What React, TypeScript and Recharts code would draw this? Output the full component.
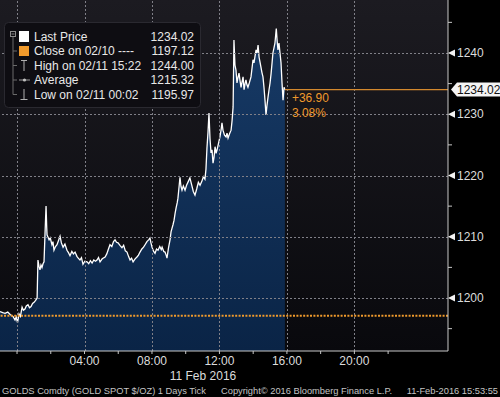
import React from 'react';
import {
  ComposedChart,
  Area,
  XAxis,
  YAxis,
  CartesianGrid,
  ReferenceLine,
  ReferenceDot,
} from 'recharts';

// hours after 00:00 on 11 Feb 2016 (negative = 10 Feb)
const TIMES = [
  -1.01, -0.85, -0.71, -0.55, -0.41, -0.3, -0.24, -0.12, -0.05, 0.03, 0.08, 0.12, 0.2, 0.3, 0.38, 0.47, 0.55, 0.65,
  0.74, 0.83, 0.92, 1.01, 1.1, 1.19, 1.24, 1.3, 1.36, 1.42, 1.48, 1.54, 1.6, 1.66, 1.72, 1.76, 1.78, 1.84, 1.9, 1.97,
  2.07, 2.13, 2.19, 2.28, 2.37, 2.46, 2.55, 2.63, 2.73, 2.84, 2.96, 3.05, 3.14, 3.25, 3.34, 3.44, 3.55, 3.63, 3.73,
  3.82, 3.91, 4.02, 4.15, 4.25, 4.35, 4.45, 4.55, 4.65, 4.74, 4.83, 4.92, 5.05, 5.22, 5.32, 5.42, 5.51, 5.62, 5.72,
  5.81, 5.9, 5.99, 6.1, 6.22, 6.32, 6.42, 6.52, 6.61, 6.7, 6.79, 6.88, 7.0, 7.11, 7.2, 7.29, 7.4, 7.5, 7.59, 7.7, 7.8,
  7.88, 7.94, 8.0, 8.1, 8.18, 8.27, 8.36, 8.46, 8.55, 8.6, 8.7, 8.77, 8.84, 8.89, 8.98, 9.07, 9.13, 9.19, 9.25, 9.31,
  9.37, 9.43, 9.5, 9.54, 9.6, 9.66, 9.72, 9.78, 9.86, 9.96, 10.05, 10.15, 10.25, 10.35, 10.45, 10.55, 10.65, 10.75,
  10.85, 10.95, 11.05, 11.14, 11.2, 11.26, 11.32, 11.38, 11.44, 11.5, 11.56, 11.62, 11.68, 11.74, 11.8, 11.86, 11.94,
  12.03, 12.1, 12.15, 12.21, 12.3, 12.39, 12.45, 12.51, 12.6, 12.69, 12.75, 12.81, 12.86, 12.92, 12.98, 13.04, 13.1,
  13.16, 13.22, 13.28, 13.34, 13.4, 13.46, 13.52, 13.57, 13.63, 13.69, 13.78, 13.87, 13.93, 13.99, 14.05, 14.11,
  14.17, 14.23, 14.29, 14.35, 14.4, 14.46, 14.52, 14.58, 14.64, 14.7, 14.76, 14.82, 14.88, 14.94, 15.0, 15.06, 15.12,
  15.17, 15.23, 15.29, 15.33, 15.37, 15.42, 15.47, 15.53, 15.59, 15.65, 15.71, 15.77, 15.83, 15.88,
];

const PRICES = [
  1197.8, 1197.6, 1197.5, 1197.7, 1197.3, 1197.1, 1197.0, 1196.4, 1196.9, 1195.97, 1196.8, 1197.4, 1197.0, 1198.5,
  1198.0, 1198.2, 1198.7, 1198.9, 1198.4, 1198.6, 1199.1, 1199.3, 1199.6, 1200.0, 1206.2, 1205.2, 1204.6, 1205.4,
  1205.0, 1205.6, 1205.9, 1210.6, 1215.0, 1211.5, 1210.3, 1209.9, 1209.5, 1209.8, 1208.7, 1209.2, 1207.8, 1208.4,
  1208.7, 1209.4, 1210.1, 1209.0, 1208.3, 1208.8, 1207.8, 1207.4, 1206.9, 1207.6, 1207.2, 1207.5, 1206.8, 1206.5,
  1206.2, 1206.6, 1205.5, 1206.0, 1205.9, 1205.6, 1206.1, 1205.7, 1206.2, 1206.0, 1206.2, 1206.6, 1205.9, 1206.4,
  1206.7, 1207.2, 1208.0, 1208.7, 1208.4, 1209.2, 1209.5, 1209.1, 1209.0, 1208.6, 1208.2, 1208.6, 1207.7, 1207.5,
  1206.8, 1206.2, 1206.5, 1205.9, 1206.4, 1206.7, 1207.0, 1207.5, 1208.0, 1208.3, 1208.7, 1209.2, 1209.5, 1209.8,
  1209.0, 1208.3, 1207.6, 1207.3, 1208.0, 1207.8, 1208.4, 1207.9, 1208.3, 1207.6, 1207.5, 1207.0, 1206.5, 1208.2,
  1209.5, 1210.8, 1211.4, 1212.0, 1212.7, 1213.8, 1214.7, 1215.6, 1216.3, 1218.0, 1219.7, 1218.2, 1217.6, 1218.3,
  1217.6, 1218.4, 1219.0, 1219.6, 1218.5, 1217.4, 1216.8, 1217.8, 1218.9, 1218.4, 1219.0, 1219.8, 1219.4, 1221.0,
  1224.5, 1227.0, 1230.2, 1226.0, 1223.7, 1224.2, 1222.0, 1223.0, 1224.7, 1223.6, 1224.2, 1225.2, 1226.3, 1227.5,
  1228.6, 1227.4, 1226.6, 1226.3, 1226.9, 1226.1, 1226.8, 1227.4, 1229.0, 1231.2, 1242.1, 1238.0, 1237.2, 1235.1,
  1236.0, 1236.7, 1235.5, 1234.4, 1235.3, 1236.1, 1234.0, 1235.0, 1235.6, 1234.8, 1234.4, 1235.2, 1236.1, 1237.5,
  1238.9, 1238.4, 1239.5, 1240.5, 1240.0, 1241.3, 1239.3, 1238.6, 1237.7, 1236.8, 1236.1, 1234.4, 1232.3, 1229.9,
  1231.5, 1232.8, 1234.0, 1235.1, 1236.6, 1238.4, 1240.0, 1240.8, 1241.6, 1242.8, 1244.0, 1242.0, 1240.5, 1241.6,
  1240.0, 1238.4, 1235.1, 1232.3, 1234.4, 1234.02,
];

const X_TICKS = [0, 2, 4, 6, 8, 10, 12, 14, 16, 18, 20, 22];
const X_LABELED = [4, 8, 12, 16, 20];
const X_GRID = [0, 4, 8, 12, 16, 20];
const Y_TICKS = [1195, 1200, 1205, 1210, 1215, 1220, 1225, 1230, 1235, 1240, 1245];
const Y_LABELED = [1200, 1210, 1220, 1230, 1240];

const X_DOMAIN = [-1.01, 25.55];
const Y_DOMAIN = [1191.35, 1248.65];

const CLOSE_PRICE = 1197.12;
const HIGH_PRICE = 1244.0;
const AVG_PRICE = 1215.32;
const LOW_PRICE = 1195.97;

const LEGEND_LABELS = ['Last Price', 'Close on 02/10 ----', 'High on 02/11 15:22', 'Average', 'Low on 02/11 00:02'];

const data = TIMES.map((t, i) => ({ t, price: PRICES[i] }));
const LAST_T = TIMES[TIMES.length - 1];
const LAST_P = PRICES[PRICES.length - 1];
const CHANGE = LAST_P - CLOSE_PRICE;
const CHANGE_PCT = (CHANGE / CLOSE_PRICE) * 100;

const FONT = '"Liberation Sans", Arial, sans-serif';
const FS = 12;
const ORANGE = '#f09a2c';
const TEXT = '#dcdcdc';
const GRID = '#808088';

const pad2 = (n: number) => (n < 10 ? '0' + n : '' + n);

const XTick = (props: any) => {
  const { x, y, payload } = props;
  const v = payload.value;
  if (!X_LABELED.includes(v)) return null;
  return (
    <text x={x} y={y + 9} textAnchor="middle" fill={TEXT} fontSize={FS} fontFamily={FONT}>
      {pad2(v) + ':00'}
    </text>
  );
};

const YTick = (props: any) => {
  const { x, y, payload } = props;
  const v = payload.value;
  if (!Y_LABELED.includes(v)) {
    return <line x1={x} y1={y} x2={x + 4} y2={y} stroke="#c8c8c8" strokeWidth={1} />;
  }
  return (
    <g>
      <polygon points={`${x},${y} ${x + 7},${y - 3.5} ${x + 7},${y + 3.5}`} fill="#f2f2f2" />
      <text x={x + 9} y={y + 4} fill={TEXT} fontSize={FS} fontFamily={FONT}>
        {v}
      </text>
    </g>
  );
};

const ChangeLabel = (props: any) => {
  const { cx, cy } = props;
  return (
    <g>
      <text x={cx + 7} y={cy + 12} fill={ORANGE} fontSize={FS} fontFamily={FONT}>
        {(CHANGE >= 0 ? '+' : '') + CHANGE.toFixed(2)}
      </text>
      <text x={cx + 7} y={cy + 27} fill={ORANGE} fontSize={FS} fontFamily={FONT}>
        {CHANGE_PCT.toFixed(2) + '%'}
      </text>
    </g>
  );
};

const PriceTag = (props: any) => {
  const { cx, cy } = props;
  const x0 = cx + 3;
  return (
    <g>
      <path d={`M${x0},${cy} L${x0 + 6},${cy - 7} H${x0 + 52} V${cy + 7} H${x0 + 6} Z`} fill="#f4f4f4" />
      <text x={x0 + 6} y={cy + 4} fill="#111" fontSize={FS} fontFamily={FONT}>
        {LAST_P.toFixed(2)}
      </text>
    </g>
  );
};

// crisp 1px dotted grid line, positioned by the reference line's scaled coordinates
const GridShape = (props: any) => {
  const x1 = Number(props.x1);
  const x2 = Number(props.x2);
  const y1 = Number(props.y1);
  const y2 = Number(props.y2);
  const vertical = Math.abs(x1 - x2) < 0.01;
  const cx = Math.round(x1) + 0.5;
  const cy = Math.round(y1) + 0.5;
  return vertical ? (
    <line x1={cx} y1={y1} x2={cx} y2={y2} stroke={GRID} strokeWidth={1} strokeDasharray="2 2" />
  ) : (
    <line x1={x1} y1={cy} x2={x2} y2={cy} stroke={GRID} strokeWidth={1} strokeDasharray="2 2" />
  );
};

const Legend = () => {
  const rows = [36.5, 51, 65.5, 80, 94.5];
  const values = [LAST_P, CLOSE_PRICE, HIGH_PRICE, AVG_PRICE, LOW_PRICE];
  return (
    <g fontFamily={FONT} fontSize={FS}>
      <rect x={4.5} y={22.5} width={196} height={85} rx={4} fill="#0e0d12" stroke="#2a2930" />
      <rect x={10.5} y={31.5} width={5} height={5} fill="none" stroke="#8a8a8a" />
      <line x1={11.5} y1={34} x2={14.5} y2={34} stroke="#8a8a8a" />
      <line x1={13} y1={37} x2={13} y2={rows[4]} stroke="#6a6a6a" />
      {rows.slice(1).map((r, i) => (
        <line key={i} x1={13} y1={r} x2={17} y2={r} stroke="#6a6a6a" />
      ))}
      <rect x={19} y={31} width={10} height={11} fill="#ffffff" />
      <rect x={19} y={46} width={10} height={10} fill={ORANGE} />
      <line x1={24} y1={60.5} x2={24} y2={71} stroke="#b0b0b0" />
      <line x1={21} y1={60.5} x2={27} y2={60.5} stroke="#b0b0b0" />
      <line x1={19} y1={80} x2={30} y2={80} stroke="#9a9a9a" />
      <circle cx={24.5} cy={80} r={1.6} fill="#c0c0c0" />
      <line x1={24} y1={89} x2={24} y2={99.5} stroke="#b0b0b0" />
      <line x1={20.5} y1={99.5} x2={27.5} y2={99.5} stroke="#b0b0b0" />
      {LEGEND_LABELS.map((l, i) => (
        <text key={l} x={34} y={rows[i] + 4} fill="#e8e8e8">
          {l}
        </text>
      ))}
      {values.map((v, i) => (
        <text key={i} x={194} y={rows[i] + 4} fill="#e8e8e8" textAnchor="end">
          {v.toFixed(2)}
        </text>
      ))}
    </g>
  );
};

const Footer = () => (
  <g fontFamily={FONT} fill="#c4c4c4">
    <text x={203} y={380} textAnchor="middle" fontSize={FS} fill={TEXT}>
      11 Feb 2016
    </text>
    <text x={2} y={393.5} fontSize={9.3}>
      GOLDS Comdty (GOLD SPOT $/OZ) 1 Days  Tick
    </text>
    <text x={221} y={393.5} fontSize={9.3}>
      Copyright© 2016 Bloomberg Finance L.P.
    </text>
    <text x={498} y={393.5} fontSize={9.3} textAnchor="end">
      11-Feb-2016 15:53:55
    </text>
  </g>
);

export default function App() {
  return (
    <div
      style={{
        position: 'absolute',
        left: 0,
        top: 0,
        width: 500,
        height: 397,
        background: '#000',
        overflow: 'hidden',
      }}
    >
      <ComposedChart width={500} height={397} data={data} margin={{ top: 0, right: 0, bottom: 0, left: 0 }}>
        <defs>
          <linearGradient id="bgGrad" x1="0" y1="0" x2="0" y2="1">
            <stop offset="0%" stopColor="#1c1b21" />
            <stop offset="100%" stopColor="#09090d" />
          </linearGradient>
          <linearGradient id="areaGrad" x1="0" y1="0" x2="0" y2="1">
            <stop offset="0%" stopColor="#173a66" />
            <stop offset="100%" stopColor="#0a2446" />
          </linearGradient>
        </defs>
        <CartesianGrid fill="url(#bgGrad)" stroke="none" horizontal={false} vertical={false} />
        <XAxis
          dataKey="t"
          type="number"
          domain={X_DOMAIN}
          allowDataOverflow
          ticks={X_TICKS}
          interval={0}
          tick={XTick}
          tickSize={3}
          tickLine={{ stroke: '#c8c8c8' }}
          axisLine={{ stroke: '#c8c8c8' }}
          height={46}
        />
        <YAxis
          orientation="right"
          type="number"
          domain={Y_DOMAIN}
          allowDataOverflow
          ticks={Y_TICKS}
          interval={0}
          tick={YTick}
          tickLine={false}
          tickSize={0}
          tickMargin={0}
          axisLine={{ stroke: '#c8c8c8' }}
          width={52}
        />
        <Area
          type="linear"
          dataKey="price"
          stroke="#ffffff"
          strokeWidth={1.3}
          fill="url(#areaGrad)"
          fillOpacity={1}
          dot={false}
          activeDot={false}
          isAnimationActive={false}
        />
        {X_GRID.map((g) => (
          <ReferenceLine key={'vx' + g} x={g} stroke={GRID} shape={GridShape} />
        ))}
        {Y_LABELED.map((g) => (
          <ReferenceLine key={'hy' + g} y={g} stroke={GRID} shape={GridShape} />
        ))}
        <ReferenceLine y={CLOSE_PRICE} stroke={ORANGE} strokeWidth={2} strokeDasharray="2 1.4" />
        <ReferenceLine
          segment={[
            { x: LAST_T, y: LAST_P },
            { x: X_DOMAIN[1], y: LAST_P },
          ]}
          stroke="#d4892e"
          strokeWidth={1.2}
        />
        <ReferenceDot x={LAST_T} y={LAST_P} r={0} shape={ChangeLabel} />
        <ReferenceDot x={X_DOMAIN[1]} y={LAST_P} r={0} shape={PriceTag} />
      </ComposedChart>
      <svg width={500} height={397} style={{ position: 'absolute', left: 0, top: 0, pointerEvents: 'none' }}>
        <Legend />
        <Footer />
      </svg>
    </div>
  );
}
